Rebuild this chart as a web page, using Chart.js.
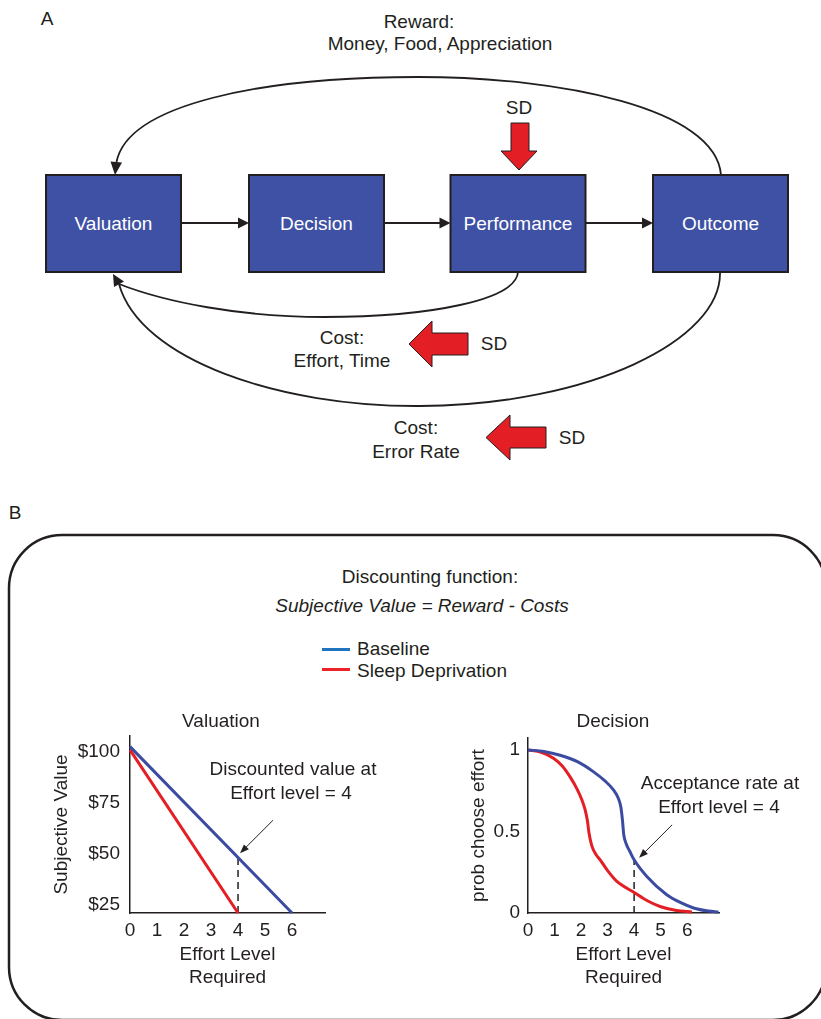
<!DOCTYPE html>
<html>
<head>
<meta charset="utf-8">
<script src="https://cdn.jsdelivr.net/npm/chart.js@4.4.0/dist/chart.umd.min.js"></script>
<style>
  html, body { margin: 0; padding: 0; background: #fff; }
  body { width: 821px; height: 1019px; position: relative; overflow: hidden;
         font-family: "Liberation Sans", Arial, sans-serif; color: #231f20; }
  .t { position: absolute; transform: translate(-50%, -50%); white-space: nowrap; font-size: 19px; line-height: 1; }
  .l { transform: translate(0, -50%); }
  .w { color: #fff; }
  .i { font-style: italic; }
  .plot { position: absolute; }
  svg { position: absolute; left: 0; top: 0; }
  .key { position: absolute; width: 28px; height: 3px; }
</style>
</head>
<body>

<svg width="821" height="1019">
  <rect x="9" y="535" width="817" height="485" rx="53" fill="none" stroke="#231f20" stroke-width="2.5"/>
  <g fill="#3f51a4" stroke="#231f20" stroke-width="2">
    <rect x="46" y="175" width="135" height="97"/>
    <rect x="249" y="175" width="135" height="97"/>
    <rect x="450.5" y="175" width="135" height="97"/>
    <rect x="653" y="175" width="135" height="97"/>
  </g>
  <g stroke="#231f20" stroke-width="1.8" fill="none">
    <line x1="181" y1="223" x2="240" y2="223"/>
    <line x1="384" y1="223" x2="442" y2="223"/>
    <line x1="585.5" y1="223" x2="645" y2="223"/>
    <path d="M721 175 C716 108 560 77 418 77 C262 77 128 104 116.5 162"/>
    <path d="M518 272 C516 300 430 317 324 317 C240 317 165 302 119 284"/>
    <path d="M720 272 C722 340 590 405 420 406 C280 407 140 360 119 284"/>
  </g>
  <g fill="#231f20">
    <polygon points="249,223 238,217.5 238,228.5"/>
    <polygon points="450.5,223 439.5,217.5 439.5,228.5"/>
    <polygon points="653,223 642,217.5 642,228.5"/>
    <polygon points="115,175 110.5,161.5 122,162.5"/>
    <polygon points="113,274 114,287 124,281.5"/>
  </g>
  <g fill="#e31e24" stroke="#231f20" stroke-width="1">
    <polygon points="511,123 529,123 529,151 537,151 519,170 501,151 511,151"/>
    <polygon points="468,333 432,333 432,321 409,344 432,367 432,355 468,355"/>
    <polygon points="546,427 510,427 510,415 486,437.5 510,460 510,448 546,448"/>
  </g>
</svg>

<div class="plot" style="left:40px;top:700px"><canvas id="valuation" width="300" height="300"></canvas></div>
<div class="plot" style="left:440px;top:700px"><canvas id="decision" width="300" height="300"></canvas></div>

<div class="t" style="left:47px;top:18px">A</div>
<div class="t" style="left:419px;top:21px">Reward:</div>
<div class="t" style="left:440px;top:43px">Money, Food, Appreciation</div>
<div class="t w" style="left:113.5px;top:223px">Valuation</div>
<div class="t w" style="left:316.5px;top:223px">Decision</div>
<div class="t w" style="left:518px;top:223px">Performance</div>
<div class="t w" style="left:720.5px;top:223px">Outcome</div>
<div class="t" style="left:519px;top:107px">SD</div>
<div class="t" style="left:342px;top:337px">Cost:</div>
<div class="t" style="left:342px;top:360px">Effort, Time</div>
<div class="t" style="left:494px;top:343px">SD</div>
<div class="t" style="left:416px;top:427px">Cost:</div>
<div class="t" style="left:416px;top:451px">Error Rate</div>
<div class="t" style="left:572px;top:437px">SD</div>

<div class="t" style="left:15px;top:512px">B</div>
<div class="t" style="left:430px;top:576px">Discounting function:</div>
<div class="t i" style="left:422px;top:605px">Subjective Value = Reward - Costs</div>
<div class="key" style="left:322px;top:647.5px;background:#1f74bf"></div>
<div class="t l" style="left:357px;top:648px">Baseline</div>
<div class="key" style="left:322px;top:667.5px;background:#ed2329"></div>
<div class="t l" style="left:357px;top:670px">Sleep Deprivation</div>

<div class="t" style="left:221px;top:720px">Valuation</div>
<div class="t" style="left:613px;top:720px">Decision</div>
<div class="t" style="left:293px;top:768px">Discounted value at</div>
<div class="t" style="left:291px;top:792px">Effort level = 4</div>
<div class="t" style="left:720px;top:782px">Acceptance rate at</div>
<div class="t" style="left:719px;top:806px">Effort level = 4</div>

<script>
// tick labels
const effortTicks = [0, 1, 2, 3, 4, 5, 6];
const valueTicks = [25, 50, 75, 100];
const probTicks = [0, 0.5, 1];

// Valuation: subjective value ($) against effort level
const valBaseEffort = [0, 6];
const valBaseValue = [102.6, 21.2];
const valSleepEffort = [0, 4];
const valSleepValue = [101, 21.2];
const valMarkEffort = [4, 4];
const valMarkValue = [21.2, 48];

// Decision: probability of choosing the effort option
const decBaseEffort = [0, 0.6, 1.21, 1.9, 2.46, 2.9, 3.22, 3.4, 3.5, 3.56, 3.61, 3.7, 3.84, 4.0, 4.48, 5.23, 5.8, 6.24, 6.8, 7.18];
const decBaseProb = [1.0, 0.99, 0.967, 0.925, 0.867, 0.81, 0.755, 0.705, 0.65, 0.57, 0.48, 0.425, 0.377, 0.326, 0.224, 0.112, 0.06, 0.031, 0.012, 0.006];
const decSleepEffort = [0, 0.5, 0.96, 1.3, 1.58, 1.85, 2.03, 2.15, 2.24, 2.3, 2.4, 2.55, 2.72, 3.0, 3.35, 4.0, 4.5, 4.98, 5.6, 6.18];
const decSleepProb = [1.0, 0.985, 0.949, 0.9, 0.836, 0.76, 0.694, 0.635, 0.565, 0.49, 0.415, 0.362, 0.326, 0.26, 0.194, 0.126, 0.075, 0.04, 0.015, 0.006];
const decMarkEffort = [4, 4];
const decMarkProb = [0, 0.326];

const ink = "#231f20";
const font = { family: '"Liberation Sans", Arial, sans-serif', size: 19 };

const pts = (xs, ys) => xs.map((x, i) => ({ x: x, y: ys[i] }));

// little black arrow pointing at the marked point
function pointer(xVal, yVal, ox, oy) {
  return {
    id: "pointer",
    afterDatasetsDraw(chart) {
      const ctx = chart.ctx;
      const tx = chart.scales.x.getPixelForValue(xVal) + ox;
      const ty = chart.scales.y.getPixelForValue(yVal) + oy;
      const sx = tx + 33, sy = ty - 33;
      const a = Math.atan2(ty - sy, tx - sx);
      ctx.save();
      ctx.strokeStyle = ink;
      ctx.fillStyle = ink;
      ctx.lineWidth = 1;
      ctx.beginPath();
      ctx.moveTo(sx, sy);
      ctx.lineTo(tx - 6 * Math.cos(a), ty - 6 * Math.sin(a));
      ctx.stroke();
      ctx.beginPath();
      ctx.moveTo(tx, ty);
      ctx.lineTo(tx - 9 * Math.cos(a) + 3.5 * Math.sin(a), ty - 9 * Math.sin(a) - 3.5 * Math.cos(a));
      ctx.lineTo(tx - 9 * Math.cos(a) - 3.5 * Math.sin(a), ty - 9 * Math.sin(a) + 3.5 * Math.cos(a));
      ctx.closePath();
      ctx.fill();
      ctx.restore();
    },
  };
}

function makeChart(id, cfg) {
  return new Chart(document.getElementById(id), {
    type: "line",
    data: {
      datasets: [
        { data: cfg.base, borderColor: "#3b4ba1", borderWidth: 3, pointRadius: 0, clip: false,
          cubicInterpolationMode: "monotone" },
        { data: cfg.sleep, borderColor: "#e31e24", borderWidth: 3, pointRadius: 0, clip: false,
          cubicInterpolationMode: "monotone" },
        { data: cfg.mark, borderColor: ink, borderWidth: 1.5, borderDash: [7, 5], pointRadius: 0, clip: false },
      ],
    },
    options: {
      responsive: false,
      animation: false,
      layout: { padding: cfg.pad },
      plugins: { legend: { display: false }, tooltip: { enabled: false } },
      scales: {
        x: {
          type: "linear",
          min: 0,
          max: cfg.xMax,
          grid: { display: false, drawTicks: false },
          border: { color: ink, width: 1.5 },
          ticks: { color: ink, font: font, padding: 6 },
          afterBuildTicks: (axis) => { axis.ticks = effortTicks.map((v) => ({ value: v })); },
          afterFit: (axis) => { axis.height = 76.2; },
          title: { display: true, text: ["Effort Level", "Required"], color: ink, font: font, padding: 0 },
        },
        y: {
          type: "linear",
          min: cfg.yMin,
          max: cfg.yMax,
          grid: { display: false, drawTicks: false },
          border: { color: ink, width: 1.5 },
          ticks: { color: ink, font: font, padding: cfg.yPad, callback: cfg.fmt },
          afterBuildTicks: (axis) => { axis.ticks = cfg.yTicks.map((v) => ({ value: v })); },
          afterFit: (axis) => { axis.width = cfg.yWidth; },
          title: { display: true, text: cfg.yTitle, color: ink, font: font, padding: 0 },
        },
      },
    },
    plugins: [pointer(4, cfg.mark[1].y, cfg.ox, cfg.oy)],
  });
}

makeChart("valuation", {
  base: pts(valBaseEffort, valBaseValue),
  sleep: pts(valSleepEffort, valSleepValue),
  mark: pts(valMarkEffort, valMarkValue),
  pad: { left: 10.6, right: 15, top: 36, bottom: 10.8 },
  xMax: 7.22,
  yMin: 21.2,
  yMax: 107.8,
  yTicks: valueTicks,
  yWidth: 79.4,
  yPad: 10,
  fmt: (v) => "$" + v,
  yTitle: "Subjective Value",
  ox: 2,
  oy: -5,
});

makeChart("decision", {
  base: pts(decBaseEffort, decBaseProb),
  sleep: pts(decSleepEffort, decSleepProb),
  mark: pts(decMarkEffort, decMarkProb),
  pad: { left: 27.6, right: 21, top: 38, bottom: 10.8 },
  xMax: 7.2,
  yMin: 0,
  yMax: 1.073,
  yTicks: probTicks,
  yWidth: 60.4,
  yPad: 8,
  fmt: (v) => String(v),
  yTitle: "prob choose effort",
  ox: 5,
  oy: -2,
});
</script>
</body>
</html>
